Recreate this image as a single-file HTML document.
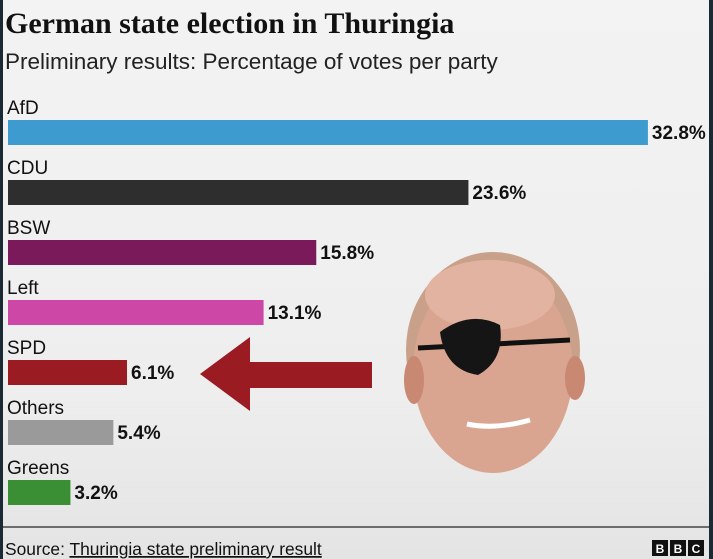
<!DOCTYPE html>
<html><head><meta charset="utf-8"><style>
html,body{margin:0;padding:0}
body{width:713px;height:559px;overflow:hidden;background:#1a2a33;font-family:"Liberation Sans",sans-serif}
#card{position:absolute;left:3px;top:0;width:706px;height:559px;background:linear-gradient(#f3f3f3,#eeeeee 70%,#e4e4e4)}
svg{position:absolute;left:0;top:0}
</style></head><body>
<div id="card"></div>
<svg id="chart" width="713" height="559">
<text x="5" y="33" font-family="Liberation Serif,serif" font-weight="bold" font-size="30" fill="#111">German state election in Thuringia</text>
<text x="5" y="69" font-size="22.5" fill="#222">Preliminary results: Percentage of votes per party</text>
<g id="bars"></g>
<g><polygon points="200,374 250,337 250,362 372,362 372,388 250,388 250,411" fill="#9b1b23"/></g>
<g>
<ellipse cx="493" cy="350" rx="87" ry="98" fill="#c9a08a"/>
<ellipse cx="493" cy="370" rx="80" ry="103" fill="#d9a590"/>
<ellipse cx="414" cy="380" rx="10" ry="24" fill="#c98872"/>
<ellipse cx="575" cy="378" rx="10" ry="22" fill="#c98872"/>
<ellipse cx="490" cy="295" rx="65" ry="35" fill="#e2b3a0"/>
<path d="M418,348 L570,340" stroke="#111" stroke-width="5"/>
<path d="M440,332 Q470,310 500,325 Q505,360 478,375 Q445,370 440,332Z" fill="#151515"/>
<path d="M467,424 Q495,430 530,420" stroke="#fff" stroke-width="5" fill="none"/>
</g>
<line x1="3" y1="527" x2="709" y2="527" stroke="#444" stroke-width="1.5"/>
<text x="5" y="555" font-size="17.4" fill="#111">Source: <tspan text-decoration="underline">Thuringia state preliminary result</tspan></text>
<g>
<rect x="652" y="540" width="16" height="16" fill="#111"/><rect x="670" y="540" width="16" height="16" fill="#111"/><rect x="688" y="540" width="16" height="16" fill="#111"/>
<text x="660" y="553" font-size="12" font-weight="bold" fill="#fff" text-anchor="middle">B</text>
<text x="678" y="553" font-size="12" font-weight="bold" fill="#fff" text-anchor="middle">B</text>
<text x="696" y="553" font-size="12" font-weight="bold" fill="#fff" text-anchor="middle">C</text>
</g>
</svg>
<script>
const parties=["AfD","CDU","BSW","Left","SPD","Others","Greens"];
const values=[32.8,23.6,15.8,13.1,6.1,5.4,3.2];
const colors=["#3d9bd0","#2e2e2e","#7a1a5a","#cc47a6","#9b1b23","#9a9a9a","#3a8f35"];
const x0=8,pxPer=19.51;
function xs(v){return v*pxPer;}
function ys(i){return 120+i*60;}
const g=document.getElementById('bars');
const NS="http://www.w3.org/2000/svg";
parties.forEach((p,i)=>{
  const lab=document.createElementNS(NS,'text');
  lab.setAttribute('x',7);lab.setAttribute('y',ys(i)-6);lab.setAttribute('font-size','19');lab.setAttribute('fill','#111');
  lab.textContent=p;
  
  
  g.appendChild(lab);
  const r=document.createElementNS(NS,'rect');
  r.setAttribute('x',x0);r.setAttribute('y',ys(i));r.setAttribute('width',xs(values[i]));r.setAttribute('height',25);r.setAttribute('fill',colors[i]);
  
  
  g.appendChild(r);
  const t=document.createElementNS(NS,'text');
  t.setAttribute('x',x0+xs(values[i])+4);t.setAttribute('y',ys(i)+19);t.setAttribute('font-size','19');t.setAttribute('font-weight','bold');t.setAttribute('fill','#111');
  t.textContent=values[i].toFixed(1)+'%';
  
  
  g.appendChild(t);
});
</script>
</body></html>
